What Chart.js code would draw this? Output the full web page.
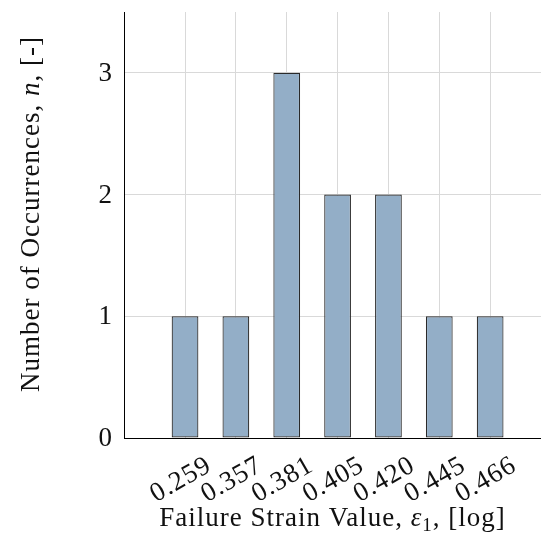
<!DOCTYPE html>
<html>
<head>
<meta charset="utf-8">
<script src="https://cdn.jsdelivr.net/npm/chart.js"></script>
<style>
  html, body { margin: 0; padding: 0; background: #fff; }
  canvas { display: block; }
</style>
</head>
<body>
<canvas id="histChart" width="541" height="538"></canvas>
<script>
// data
const strainLabels = ['0.259', '0.357', '0.381', '0.405', '0.420', '0.445', '0.466'];
const occurrences = [1, 1, 3, 2, 2, 1, 1];
const yTicks = [0, 1, 2, 3];

const SERIF = '"Liberation Serif", "DejaVu Serif", serif';
const FS = 27;

// draw a row of text pieces (normal / italic / subscript) centred on 0,0
function drawPieces(ctx, pieces) {
  const fontFor = p => (p.italic ? 'italic ' : '') + (p.sub ? Math.round(FS * 0.7) : FS) + 'px ' + SERIF;
  let total = 0;
  pieces.forEach(p => { ctx.font = fontFor(p); p.w = ctx.measureText(p.t).width; total += p.w; });
  let x = -total / 2;
  ctx.textAlign = 'left';
  ctx.textBaseline = 'alphabetic';
  pieces.forEach(p => {
    ctx.font = fontFor(p);
    ctx.fillText(p.t, x, p.sub ? 13 : 8);
    x += p.w;
  });
}

const textPlugin = {
  id: 'textPlugin',
  afterDraw(chart) {
    const ctx = chart.ctx;
    const xs = chart.scales.x, ys = chart.scales.y;
    ctx.save();
    ctx.fillStyle = '#111';
    ctx.letterSpacing = '1px';

    // y tick labels
    ctx.font = FS + 'px ' + SERIF;
    ctx.textAlign = 'right';
    ctx.textBaseline = 'middle';
    yTicks.forEach(v => ctx.fillText(String(v), xs.left - 11, ys.getPixelForValue(v) + 1));

    // rotated x tick labels, centred under each bar
    strainLabels.forEach((lab, i) => {
      ctx.save();
      ctx.translate(xs.getPixelForValue(i) - 4, ys.bottom + 42);
      ctx.rotate(-30 * Math.PI / 180);
      ctx.textAlign = 'center';
      ctx.textBaseline = 'middle';
      ctx.fillText(lab, 0, 0);
      ctx.restore();
    });

    // x title
    ctx.save();
    ctx.translate((xs.left + xs.right) / 2, 518);
    drawPieces(ctx, [
      {t: 'Failure Strain Value, '},
      {t: 'ε', italic: true},
      {t: '1', sub: true},
      {t: ', [log]'}
    ]);
    ctx.restore();

    // y title
    ctx.save();
    ctx.translate(31, 214);
    ctx.rotate(-Math.PI / 2);
    drawPieces(ctx, [
      {t: 'Number of Occurrences, '},
      {t: 'n', italic: true},
      {t: ', [-]'}
    ]);
    ctx.restore();

    ctx.restore();
  }
};

new Chart(document.getElementById('histChart'), {
  type: 'bar',
  data: {
    datasets: [{
      data: occurrences.map((v, i) => ({x: i, y: v})),
      backgroundColor: '#93aec7',
      borderColor: '#2a2a2a',
      borderWidth: 1.2,
      borderSkipped: false,
      categoryPercentage: 1,
      barPercentage: 0.526
    }]
  },
  options: {
    responsive: false,
    animation: false,
    layout: { padding: { left: 124, top: 12, right: 0, bottom: 100 } },
    plugins: { legend: { display: false }, tooltip: { enabled: false } },
    scales: {
      x: {
        type: 'linear',
        offset: false,
        min: -1.2,
        max: 7.0,
        afterBuildTicks: s => { s.ticks = strainLabels.map((_, i) => ({value: i})); },
        ticks: { display: false },
        grid: { color: '#d9d9d9', lineWidth: 1, drawTicks: false, offset: false },
        border: { display: true, color: '#000', width: 1 }
      },
      y: {
        min: 0,
        max: 3.5,
        afterBuildTicks: s => { s.ticks = yTicks.map(v => ({value: v})); },
        ticks: { display: false },
        grid: { color: '#d9d9d9', lineWidth: 1, drawTicks: false },
        border: { display: true, color: '#000', width: 1 }
      }
    }
  },
  plugins: [textPlugin]
});
</script>
</body>
</html>
